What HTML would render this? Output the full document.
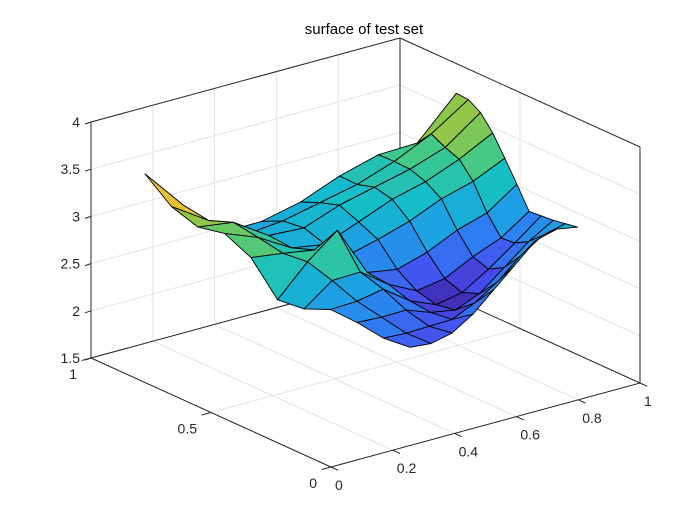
<!DOCTYPE html>
<html>
<head>
<meta charset="utf-8">
<style>
  html,body{margin:0;padding:0;background:#fff;}
  svg{display:block;font-family:"Liberation Sans",Arial,sans-serif;}
</style>
</head>
<body>
<svg id="chart" width="700" height="525" viewBox="0 0 700 525" xmlns="http://www.w3.org/2000/svg">
  <rect x="0" y="0" width="700" height="525" fill="#ffffff"/>
  <text x="364" y="34" text-anchor="middle" font-size="15" fill="#000">surface of test set</text>
  <g id="gridLayer"></g>
  <g id="surfLayer"></g>
  <g id="axisLayer"></g>
</svg>
<script>
// ---- data ----
const xTicks = [0, 0.2, 0.4, 0.6, 0.8, 1];
const xTickLabels = ["0", "0.2", "0.4", "0.6", "0.8", "1"];
const yTicks = [0, 0.5, 1];
const yTickLabels = ["0", "0.5", "1"];
const zTicks = [1.5, 2, 2.5, 3, 3.5, 4];
const zTickLabels = ["1.5", "2", "2.5", "3", "3.5", "4"];
// surface corner locations in (x,y) data space: front, right, left, back
const cornerX = [0.256, 1.0, 0.0, 1.12];
const cornerY = [0.0, 0.26, 0.775, 0.92];
// z values: rows along u (front->right), columns along v (front->left)
const zRow0 = [2.54, 2.57, 2.67, 2.74, 2.68, 2.71, 3.09, 3.28, 3.28, 3.43, 3.71];
const zRow1 = [2.46, 2.50, 2.60, 2.70, 2.85, 2.98, 3.00, 3.10, 3.19, 3.14, 3.23];
const zRow2 = [2.45, 2.45, 2.55, 2.70, 2.81, 3.18, 2.90, 2.85, 2.91, 2.85, 2.80];
const zRow3 = [2.53, 2.40, 2.40, 2.45, 2.55, 2.60, 2.70, 2.75, 2.85, 2.85, 2.77];
const zRow4 = [2.67, 2.45, 2.30, 2.28, 2.35, 2.50, 2.74, 2.85, 2.95, 2.90, 2.83];
const zRow5 = [2.81, 2.55, 2.35, 2.28, 2.35, 2.55, 2.80, 2.95, 3.00, 2.95, 2.96];
const zRow6 = [2.95, 2.70, 2.50, 2.40, 2.45, 2.65, 2.90, 3.00, 3.05, 3.05, 3.04];
const zRow7 = [2.95, 2.80, 2.65, 2.55, 2.52, 2.70, 2.95, 3.10, 3.14, 3.20, 3.02];
const zRow8 = [2.85, 2.80, 2.75, 2.71, 2.67, 2.87, 3.06, 3.24, 3.37, 3.42, 3.40];
const zData = [zRow0, zRow1, zRow2, zRow3, zRow4, zRow5, zRow6, zRow7, zRow8];

// ---- axis functions (orthographic projection) ----
const X0 = 331, Y0 = 467;
function px(x, y, z) { return X0 + 309 * x - 240 * y; }
function py(x, y, z) { return Y0 - 84 * x - 109 * y - (z - 1.5) * 94.4; }
const NS = "http://www.w3.org/2000/svg";
function mk(tag, attrs, parent) {
  const e = document.createElementNS(NS, tag);
  for (const k in attrs) e.setAttribute(k, attrs[k]);
  parent.appendChild(e);
  return e;
}
function line3(a, b, stroke, w, parent) {
  return mk("line", {x1: px(a[0],a[1],a[2]).toFixed(1), y1: py(a[0],a[1],a[2]).toFixed(1),
    x2: px(b[0],b[1],b[2]).toFixed(1), y2: py(b[0],b[1],b[2]).toFixed(1), stroke: stroke, "stroke-width": w}, parent);
}
const gridLayer = document.getElementById("gridLayer");
const surfLayer = document.getElementById("surfLayer");
const axisLayer = document.getElementById("axisLayer");
const GC = "#e3e3e3", AC = "#262626";
const zMin = zTicks[0], zMax = zTicks[zTicks.length - 1];

xTicks.forEach(function (t) {
  const l = line3([t,0,zMin],[t,1,zMin],GC,1,gridLayer);
  
  
});
yTicks.forEach(function (t) {
  const l = line3([0,t,zMin],[1,t,zMin],GC,1,gridLayer);
  
  
});
xTicks.forEach(function (t) {
  const l = line3([t,1,zMin],[t,1,zMax],GC,1,gridLayer);
  
  
});
zTicks.forEach(function (t) {
  const l = line3([0,1,t],[1,1,t],GC,1,gridLayer);
  
  
  const l2 = line3([1,0,t],[1,1,t],GC,1,gridLayer);
  
  
});
yTicks.forEach(function (t) {
  const l = line3([1,t,zMin],[1,t,zMax],GC,1,gridLayer);
  
  
});
[[[0,1,zMin],[1,1,zMin]],[[1,0,zMin],[1,1,zMin]],[[1,1,zMin],[1,1,zMax]],
 [[0,1,zMax],[1,1,zMax]],[[1,1,zMax],[1,0,zMax]],[[1,0,zMin],[1,0,zMax]]].forEach(function (s) {
  const l = line3(s[0], s[1], AC, 1, gridLayer);
  
  
});

// ---- parula-like colormap ----
const cmStops = [
  [0.00, [62, 38, 168]], [0.12, [72, 76, 238]], [0.25, [45, 125, 242]],
  [0.36, [30, 160, 228]], [0.48, [20, 190, 200]], [0.60, [60, 200, 140]],
  [0.72, [130, 200, 80]], [0.84, [200, 190, 50]], [0.92, [250, 195, 55]], [1.00, [249, 251, 14]]
];
function cmap(t) {
  t = Math.max(0, Math.min(1, t));
  for (let k = 1; k < cmStops.length; k++) {
    if (t <= cmStops[k][0]) {
      const a = cmStops[k-1], b = cmStops[k], f = (t - a[0]) / (b[0] - a[0]);
      const c = a[1].map(function (v, i) { return Math.round(v + (b[1][i] - v) * f); });
      return "rgb(" + c.join(",") + ")";
    }
  }
  return "rgb(249,251,14)";
}

// ---- surface ----
const nu = zData.length, nv = zData[0].length;
function nodeXY(i, j) {
  const u = i / (nu - 1), v = j / (nv - 1);
  const bx = cornerX[3] - cornerX[2] - cornerX[1] + cornerX[0];
  const by = cornerY[3] - cornerY[2] - cornerY[1] + cornerY[0];
  return [cornerX[0] + u * (cornerX[1] - cornerX[0]) + v * (cornerX[2] - cornerX[0]) + u * v * bx,
          cornerY[0] + u * (cornerY[1] - cornerY[0]) + v * (cornerY[2] - cornerY[0]) + u * v * by];
}
let zlo = Infinity, zhi = -Infinity;
zData.forEach(function (r) { r.forEach(function (z) { zlo = Math.min(zlo, z); zhi = Math.max(zhi, z); }); });
const faces = [];
for (let i = 0; i < nu - 1; i++) {
  for (let j = 0; j < nv - 1; j++) {
    const idx = [[i,j],[i+1,j],[i+1,j+1],[i,j+1]];
    const pts = idx.map(function (p) { const xy = nodeXY(p[0], p[1]); return [xy[0], xy[1], zData[p[0]][p[1]]]; });
    let depth = 0, zc = 0, zmx = -Infinity;
    pts.forEach(function (p) { depth += 1.732 * (84 * p[0] + 109 * p[1]) - 54.5 * p[2]; zc += p[2]; zmx = Math.max(zmx, p[2]); });
    faces.push({pts: pts, depth: depth / 4, zc: 0.5 * (zc / 4) + 0.5 * zmx});
  }
}
faces.sort(function (a, b) { return b.depth - a.depth; });
faces.forEach(function (f) {
  const d = f.pts.map(function (p) { return px(p[0],p[1],p[2]).toFixed(1) + "," + py(p[0],p[1],p[2]).toFixed(1); }).join(" ");
  const poly = mk("polygon", {points: d, fill: cmap((f.zc - zlo) / (zhi - zlo)), stroke: "#000", "stroke-width": 0.9, "stroke-linejoin": "round"}, surfLayer);
  
  
});

// ---- front axes ----
[[[0,0,zMin],[1,0,zMin]],[[0,0,zMin],[0,1,zMin]],[[0,1,zMin],[0,1,zMax]]].forEach(function (s) {
  const l = line3(s[0], s[1], AC, 1, axisLayer);
  
  
});
xTicks.forEach(function (t, k) {
  const tk = line3([t,0,zMin],[t,-0.03,zMin],AC,1,axisLayer);
  
  
  const tx = mk("text", {x: (px(t,0,zMin) + 4).toFixed(1), y: (py(t,0,zMin) + 23).toFixed(1), "font-size": 14, fill: AC}, axisLayer);
  tx.textContent = xTickLabels[k];
  
  
});
yTicks.forEach(function (t, k) {
  const tk = line3([0,t,zMin],[-0.03,t,zMin],AC,1,axisLayer);
  
  
  const tx = mk("text", {x: (px(0,t,zMin) - 14).toFixed(1), y: (py(0,t,zMin) + 21).toFixed(1), "font-size": 14, fill: AC, "text-anchor": "end"}, axisLayer);
  tx.textContent = yTickLabels[k];
  
  
});
zTicks.forEach(function (t, k) {
  const x = px(0,1,t), y = py(0,1,t);
  const tk = mk("line", {x1: x.toFixed(1), y1: y.toFixed(1), x2: (x - 6).toFixed(1), y2: (y + 2).toFixed(1), stroke: AC, "stroke-width": 1}, axisLayer);
  
  
  const tx = mk("text", {x: (x - 11).toFixed(1), y: (y + 5).toFixed(1), "font-size": 14, fill: AC, "text-anchor": "end"}, axisLayer);
  tx.textContent = zTickLabels[k];
  
  
});
</script>
</body>
</html>
